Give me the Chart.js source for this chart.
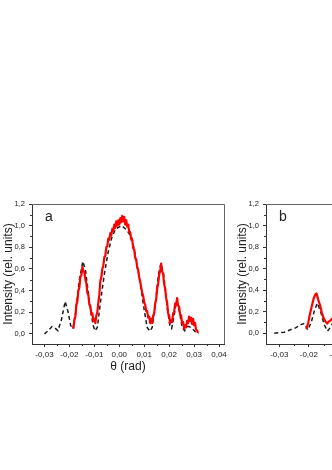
<!DOCTYPE html>
<html>
<head>
<meta charset="utf-8">
<script src="https://cdn.jsdelivr.net/npm/chart.js@4"></script>
<style>
  body { margin: 0; background: #fff; width: 332px; height: 470px; overflow: hidden; position: relative; }
  canvas { position: absolute; }
  #chartA { left: 0; top: 190px; }
  #chartB { left: 234px; top: 190px; }
</style>
</head>
<body>
<canvas id="chartA" width="236" height="190"></canvas>
<canvas id="chartB" width="270" height="190"></canvas>
<script>
// panel a: theory (dashed) and measurement (red)
const thetaTheoryA = [-0.0300, -0.0285, -0.0270, -0.0258, -0.0246, -0.0232, -0.0217, -0.0205, -0.0195, -0.0186,
  -0.0175, -0.0160, -0.0146, -0.0135, -0.0120, -0.0105, -0.0097, -0.0088, -0.0075, -0.0060,
  -0.0045, -0.0030, -0.0015, 0.0010, 0.0030, 0.0050, 0.0065, 0.0083, 0.0100, 0.0112,
  0.0123, 0.0132, 0.0145, 0.0157, 0.0167, 0.0178, 0.0192, 0.0203, 0.0210, 0.0218,
  0.0230, 0.0242, 0.0252, 0.0262, 0.0275, 0.0288, 0.0305, 0.0318];
const intensityTheoryA = [0.00, 0.03, 0.068, 0.055, 0.03, 0.13, 0.30, 0.20, 0.08, 0.046,
  0.20, 0.50, 0.67, 0.58, 0.30, 0.08, 0.028, 0.06, 0.30, 0.55,
  0.75, 0.89, 0.97, 1.00, 0.96, 0.89, 0.72, 0.485, 0.22, 0.06,
  0.025, 0.06, 0.28, 0.55, 0.65, 0.55, 0.25, 0.07, 0.05, 0.15,
  0.30, 0.20, 0.06, 0.03, 0.07, 0.06, 0.02, 0.00];

const thetaExpA = [-0.0184, -0.0180, -0.0176, -0.0172, -0.0168, -0.0164, -0.0160, -0.0156, -0.0152, -0.0148,
  -0.0144, -0.0140, -0.0136, -0.0132, -0.0128, -0.0124, -0.0120, -0.0116, -0.0112, -0.0108,
  -0.0104, -0.0100, -0.0096, -0.0092, -0.0088, -0.0084, -0.0080, -0.0076, -0.0072, -0.0068,
  -0.0064, -0.0060, -0.0056, -0.0052, -0.0048, -0.0044, -0.0040, -0.0036, -0.0032, -0.0028,
  -0.0024, -0.0020, -0.0016, -0.0012, -0.0008, -0.0004, 0.0000, 0.0004, 0.0008, 0.0012,
  0.0016, 0.0020, 0.0024, 0.0028, 0.0032, 0.0036, 0.0040, 0.0044, 0.0048, 0.0052,
  0.0056, 0.0060, 0.0064, 0.0068, 0.0072, 0.0076, 0.0080, 0.0084, 0.0088, 0.0092,
  0.0096, 0.0100, 0.0104, 0.0108, 0.0112, 0.0116, 0.0120, 0.0124, 0.0128, 0.0132,
  0.0136, 0.0140, 0.0144, 0.0148, 0.0152, 0.0156, 0.0160, 0.0164, 0.0168, 0.0172,
  0.0176, 0.0180, 0.0184, 0.0188, 0.0192, 0.0196, 0.0200, 0.0204, 0.0208, 0.0212,
  0.0216, 0.0220, 0.0224, 0.0228, 0.0232, 0.0236, 0.0240, 0.0244, 0.0248, 0.0252,
  0.0256, 0.0260, 0.0264, 0.0268, 0.0272, 0.0276, 0.0280, 0.0284, 0.0288, 0.0292,
  0.0296, 0.0300, 0.0304, 0.0308, 0.0312, 0.0316];
const intensityExpA = [0.05, 0.13, 0.16, 0.27, 0.30, 0.40, 0.43, 0.53, 0.54, 0.62,
  0.58, 0.57, 0.50, 0.47, 0.38, 0.36, 0.27, 0.26, 0.18, 0.19,
  0.12, 0.14, 0.10, 0.17, 0.20, 0.29, 0.36, 0.49, 0.52, 0.60,
  0.63, 0.71, 0.72, 0.80, 0.81, 0.88, 0.87, 0.93, 0.91, 0.97,
  0.95, 1.01, 0.98, 1.04, 1.00, 1.05, 1.01, 1.07, 1.03, 1.09,
  1.04, 1.08, 1.01, 1.05, 0.99, 1.01, 0.94, 0.94, 0.87, 0.87,
  0.79, 0.78, 0.70, 0.69, 0.61, 0.59, 0.52, 0.48, 0.43, 0.38,
  0.35, 0.29, 0.27, 0.21, 0.21, 0.15, 0.16, 0.10, 0.14, 0.10,
  0.17, 0.19, 0.28, 0.32, 0.42, 0.46, 0.55, 0.58, 0.65, 0.58,
  0.55, 0.46, 0.42, 0.33, 0.29, 0.19, 0.17, 0.10, 0.13, 0.11,
  0.19, 0.20, 0.28, 0.27, 0.33, 0.26, 0.25, 0.18, 0.17, 0.10,
  0.11, 0.05, 0.08, 0.06, 0.12, 0.10, 0.16, 0.12, 0.15, 0.09,
  0.14, 0.08, 0.10, 0.04, 0.03, 0.01];

// panel b (cut off at the right edge)
const thetaTheoryB = [-0.0317, -0.0300, -0.0283, -0.0265, -0.0245, -0.0227, -0.0215, -0.0204, -0.0192, -0.0180,
  -0.0171, -0.0160, -0.0148, -0.0137, -0.0128, -0.0120];
const intensityTheoryB = [0.00, 0.005, 0.01, 0.03, 0.05, 0.08, 0.09, 0.03, 0.10, 0.22,
  0.28, 0.20, 0.08, 0.02, 0.05, 0.09];
const thetaExpB = [-0.0208, -0.0202, -0.0196, -0.0190, -0.0184, -0.0178, -0.0174, -0.0168, -0.0162, -0.0156,
  -0.0150, -0.0144, -0.0138, -0.0132, -0.0126, -0.0120];
const intensityExpB = [0.04, 0.10, 0.18, 0.25, 0.32, 0.36, 0.37, 0.31, 0.26, 0.19,
  0.14, 0.11, 0.09, 0.11, 0.12, 0.14];

const xTicks = [-0.03, -0.02, -0.01, 0.00, 0.01, 0.02, 0.03, 0.04];
const yTicks = [0.0, 0.2, 0.4, 0.6, 0.8, 1.0, 1.2];

const axisColor = '#333';
const textColor = '#222';
const fontFamily = '"Liberation Sans", Arial, sans-serif';

function pairs(xs, ys) {
  return xs.map((x, i) => ({x: x, y: ys[i]}));
}

// outward minor ticks halfway between the major ones
const minorTicks = {
  id: 'minorTicks',
  afterDraw(chart) {
    const ctx = chart.ctx;
    const xs = chart.scales.x, ys = chart.scales.y;
    ctx.save();
    ctx.strokeStyle = axisColor;
    ctx.lineWidth = 1;
    ctx.beginPath();
    for (let i = 0; i < xTicks.length - 1; i++) {
      const px = Math.round(xs.getPixelForValue((xTicks[i] + xTicks[i + 1]) / 2)) + 0.5;
      ctx.moveTo(px, chart.chartArea.bottom);
      ctx.lineTo(px, chart.chartArea.bottom + 2);
    }
    for (let i = 0; i < yTicks.length - 1; i++) {
      const py = Math.round(ys.getPixelForValue((yTicks[i] + yTicks[i + 1]) / 2)) + 0.5;
      ctx.moveTo(chart.chartArea.left, py);
      ctx.lineTo(chart.chartArea.left - 2, py);
    }
    ctx.stroke();
    ctx.restore();
  }
};

// frame top/right + panel letter
const frame = {
  id: 'frame',
  afterDraw(chart, args, opts) {
    const ctx = chart.ctx;
    const a = chart.chartArea;
    ctx.save();
    ctx.strokeStyle = '#666';
    ctx.lineWidth = 1;
    ctx.beginPath();
    ctx.moveTo(a.left, a.top + 0.5);
    ctx.lineTo(a.right + 0.5, a.top + 0.5);
    ctx.lineTo(a.right + 0.5, a.bottom);
    ctx.stroke();
    ctx.fillStyle = textColor;
    ctx.font = '14px ' + fontFamily;
    ctx.textBaseline = 'alphabetic';
    ctx.fillText(opts.letter, a.left + 13, a.top + 17);
    ctx.restore();
  }
};

function makeConfig(expX, expY, thX, thY, letter, xMin, xMax, yMin, pad) {
  return {
    type: 'line',
    data: {
      datasets: [
        {
          label: 'experiment',
          data: pairs(expX, expY),
          borderColor: '#ff0000',
          borderWidth: 2.2,
          borderJoinStyle: 'round',
          pointRadius: 0,
          tension: 0,
        },
        {
          label: 'theory',
          data: pairs(thX, thY),
          borderColor: '#1a1a1a',
          borderWidth: 1.5,
          borderDash: [4, 3],
          pointRadius: 0,
          tension: 0,
        }
      ]
    },
    options: {
      responsive: false,
      animation: false,
      layout: { padding: pad },
      plugins: {
        legend: { display: false },
        tooltip: { enabled: false },
        frame: { letter: letter },
      },
      scales: {
        x: {
          type: 'linear',
          min: xMin,
          max: xMax,
          afterBuildTicks: (scale) => { scale.ticks = xTicks.map(v => ({value: v})); },
          afterFit: (scale) => { scale.height = 36; },
          grid: { drawOnChartArea: false, tickLength: 3, color: axisColor },
          border: { color: axisColor },
          ticks: {
            color: textColor,
            padding: 3,
            maxRotation: 0,
            autoSkip: false,
            font: { family: fontFamily, size: 8 },
            callback: (v) => Number(v).toFixed(2).replace('.', ',')
          },
          title: {
            display: true,
            text: 'θ (rad)',
            color: textColor,
            padding: { top: 0, bottom: 6 },
            font: { family: fontFamily, size: 12 }
          }
        },
        y: {
          type: 'linear',
          min: yMin,
          max: 1.2,
          afterBuildTicks: (scale) => { scale.ticks = yTicks.map(v => ({value: v})); },
          afterFit: (scale) => { scale.width = 32; },
          grid: { drawOnChartArea: false, tickLength: 3, color: axisColor },
          border: { color: axisColor },
          ticks: {
            color: textColor,
            padding: 4,
            autoSkip: false,
            font: { family: fontFamily, size: 7.5 },
            callback: (v) => Number(v).toFixed(1).replace('.', ',')
          },
          title: {
            display: true,
            text: 'Intensity (rel. units)',
            color: textColor,
            padding: { top: 1, bottom: 0 },
            font: { family: fontFamily, size: 12 }
          }
        }
      }
    },
    plugins: [minorTicks, frame]
  };
}

new Chart(
  document.getElementById('chartA'),
  makeConfig(thetaExpA, intensityExpA, thetaTheoryA, intensityTheoryA, 'a', -0.035, 0.042, -0.093,
    { top: 14, right: 12, bottom: 0, left: 0 })
);
new Chart(
  document.getElementById('chartB'),
  makeConfig(thetaExpB, intensityExpB, thetaTheoryB, intensityTheoryB, 'b', -0.0345, 0.042, -0.1,
    { top: 14, right: 12, bottom: 0, left: 0 })
);
</script>
</body>
</html>
